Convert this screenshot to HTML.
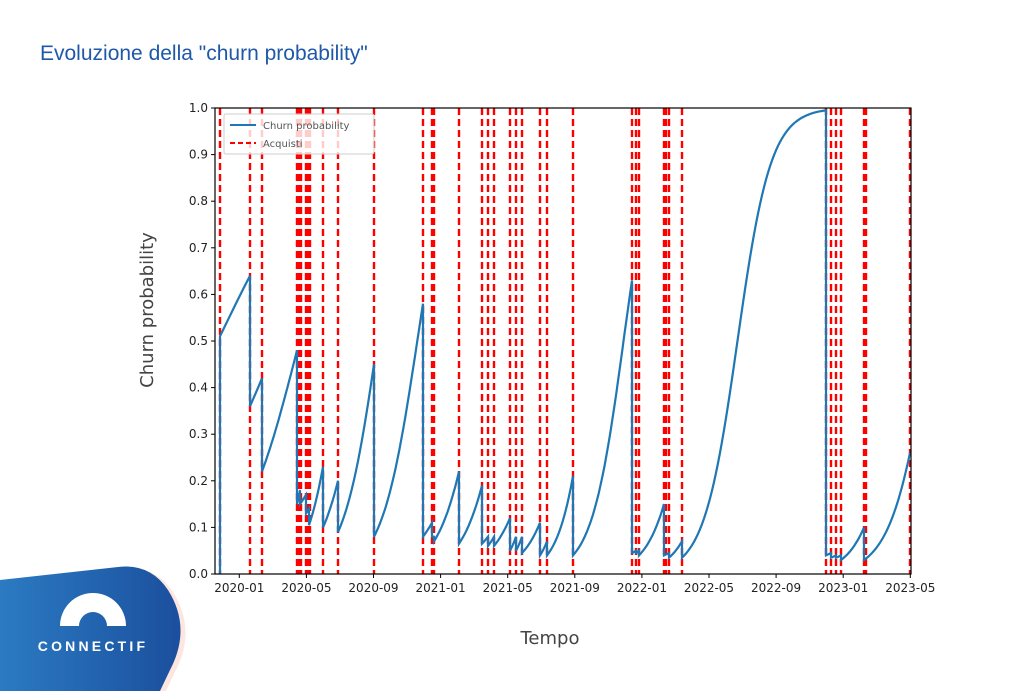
<!DOCTYPE html>
<html><head><meta charset="utf-8"><style>
body{margin:0;width:1024px;height:691px;background:#fff;overflow:hidden;font-family:"Liberation Sans",sans-serif}
</style></head><body>
<svg id="s" width="1024" height="691" viewBox="0 0 1024 691" xmlns="http://www.w3.org/2000/svg">
<text x="40" y="60" font-size="21" fill="#1f58a8" font-family="Liberation Sans, sans-serif">Evoluzione della "churn probability"</text>
<defs><linearGradient id="g" x1="0" x2="1"><stop offset="0" stop-color="#2b7bc2"/><stop offset="1" stop-color="#1b4f9e"/></linearGradient></defs>
<path d="M0,580 L118,567 Q150,563 168,590 Q192,628 170,670 L160,691 L0,691Z" fill="#fde6df" transform="translate(5,2)"/>
<path d="M0,580 L118,567 Q150,563 168,590 Q192,628 170,670 L160,691 L0,691Z" fill="url(#g)"/>
<path d="M60,626 A33,33 0 0 1 126,626 L107,626 A14,14 0 0 0 79,626Z" fill="#fff"/>
<text x="93" y="651" font-size="14" font-weight="bold" fill="#fff" text-anchor="middle" letter-spacing="3.2">CONNECTIF</text>
<g id="plot"></g>
<g font-size="12" fill="#222" font-family="DejaVu Sans, sans-serif" id="lab"></g>
<text transform="translate(153,310) rotate(-90)" font-size="18" fill="#444" text-anchor="middle" font-family="DejaVu Sans, sans-serif">Churn probability</text>
<text x="550" y="644" font-size="18" fill="#444" text-anchor="middle" font-family="DejaVu Sans, sans-serif">Tempo</text>
</svg>
<script>
const L=215,R=911,T=108,B=574;const Y=v=>B-v*(B-T);
let h='';
const reds=[220,250,262,297,299,301,306,308,310,323,338,374,423,432,434,459,482,488,494,510,516,522,540,547,573,632,636,639,664,666,669,682,826,831,836,841,864,866,910];
for(const x of reds)h+=`<line x1="${x}" y1="${T}" x2="${x}" y2="${B}" stroke="#ff0000" stroke-width="2.4" stroke-dasharray="7,4"/>`;
const seg=[[220,0.51,250,0.64],[250,0.36,262,0.42],[262,0.22,297,0.48],[297,0.15,300,0.18],[300,0.15,306,0.17],[306,0.13,309,0.14],[309,0.105,323,0.23],[323,0.10,338,0.20],[338,0.09,374,0.45],[374,0.08,423,0.58],[423,0.08,432,0.11],[432,0.08,434,0.08],[434,0.07,459,0.22],[459,0.065,482,0.19],[482,0.065,488,0.08],[488,0.06,494,0.08],[494,0.06,510,0.12],[510,0.05,516,0.08],[516,0.05,522,0.08],[522,0.045,540,0.11],[540,0.04,547,0.07],[547,0.04,573,0.21],[573,0.04,632,0.63],[632,0.045,636,0.05],[636,0.045,639,0.05],[639,0.04,664,0.15],[664,0.04,669,0.045],[669,0.035,682,0.07],[682,0.035,826,0.995],[826,0.04,831,0.045],[831,0.035,836,0.04],[836,0.035,841,0.04],[841,0.03,864,0.1],[864,0.03,910,0.26]];
const lg=p=>Math.log(p/(1-p)),sg=z=>1/(1+Math.exp(-z));
let d=`M220,${Y(0)}`;let prev=null;
for(const [x0,v0,x1,v1] of seg){d+=` L${x0},${Y(v0).toFixed(1)}`;const a=lg(v0),b=lg(v1);const n=Math.max(4,Math.round((x1-x0)/2));for(let i=1;i<=n;i++){const t=i/n;d+=` L${(x0+(x1-x0)*t).toFixed(1)},${Y(sg(a+(b-a)*t)).toFixed(1)}`;}}
h+=`<path d="${d}" fill="none" stroke="#1f77b4" stroke-width="2.2"/>`;
h+=`<rect x="${L}" y="${T}" width="${R-L}" height="${B-T}" fill="none" stroke="#000" stroke-width="1.2"/>`;
h+=`<rect x="224" y="114" width="150" height="40" fill="#fff" fill-opacity="0.8" stroke="#ccc" rx="2"/>`;
h+=`<line x1="230" y1="125" x2="256" y2="125" stroke="#1f77b4" stroke-width="2"/><line x1="230" y1="143" x2="256" y2="143" stroke="#f00" stroke-width="2" stroke-dasharray="5,3"/>`;
h+=`<text x="263" y="129" font-size="10" fill="#555" font-family="DejaVu Sans, sans-serif">Churn probability</text><text x="263" y="147" font-size="10" fill="#555" font-family="DejaVu Sans, sans-serif">Acquisti</text>`;
let l='';
for(let i=0;i<=10;i++){const y=Y(i/10);l+=`<line x1="${L-4}" y1="${y}" x2="${L}" y2="${y}" stroke="#000"/><text x="${L-7}" y="${y+4}" text-anchor="end">${(i/10).toFixed(1)}</text>`;}
const xt=['2020-01','2020-05','2020-09','2021-01','2021-05','2021-09','2022-01','2022-05','2022-09','2023-01','2023-05'];
xt.forEach((s,i)=>{const x=239.3+i*67.1;l+=`<line x1="${x}" y1="${B}" x2="${x}" y2="${B+4}" stroke="#000"/><text x="${x}" y="${B+18}" text-anchor="middle">${s}</text>`;});
document.getElementById('plot').innerHTML=h;document.getElementById('lab').innerHTML=l;
</script>
</body></html>
